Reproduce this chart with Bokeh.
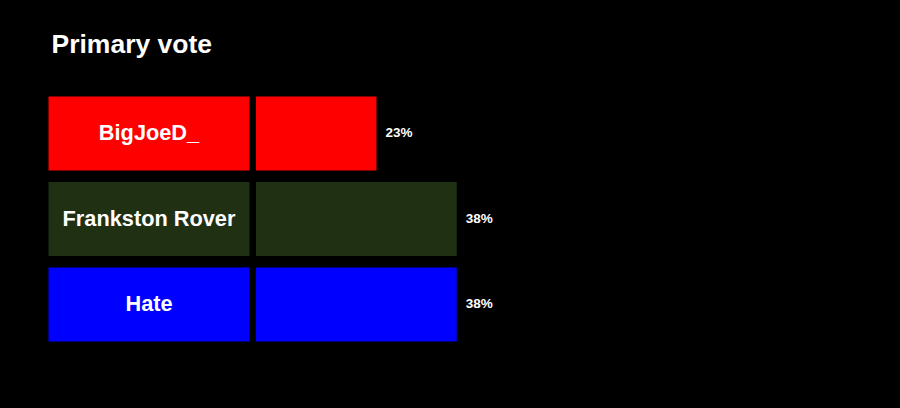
from bokeh.plotting import figure
from bokeh.models import Range1d, Label, ColumnDataSource
from bokeh.embed import file_html
from bokeh.resources import INLINE

# ---- data ----
names = ["BigJoeD_", "Frankston Rover", "Hate"]
shares = [23.08, 38.46, 38.46]          # primary vote, percent
labels = ["23%", "38%", "38%"]
colors = ["#ff0000", "#1f3013", "#0000ff"]
title_text = "Primary vote"

rows = list(range(len(names)))

W, H = 884, 392
px_per_pct = 5.22
px_per_row = 85.5
bar_start_px = 255.5
x0 = -bar_start_px / px_per_pct
y_top = -133 / px_per_row

p = figure(width=W, height=H, output_backend="svg", toolbar_location=None,
           x_range=Range1d(x0, x0 + W / px_per_pct),
           y_range=Range1d(y_top + H / px_per_row, y_top),
           min_border=0, min_border_left=0, min_border_right=0,
           min_border_top=0, min_border_bottom=0,
           background_fill_color="#000000", border_fill_color="#000000",
           outline_line_color=None)
p.axis.visible = False
p.grid.visible = False

src = ColumnDataSource(dict(y=rows, name=names, share=shares, label=labels, color=colors))

bar_h = 74 / px_per_row
box_left = (48 - bar_start_px) / px_per_pct
box_right = (249 - bar_start_px) / px_per_pct

# name boxes
p.hbar(y="y", left=box_left, right=box_right, height=bar_h, fill_color="color",
       line_color=None, source=src)
# value bars
p.hbar(y="y", left=0, right="share", height=bar_h, fill_color="color",
       line_color=None, source=src)

p.text(x=(box_left + box_right) / 2, y="y", text="name", source=src, y_offset=-1,
       text_align="center", text_baseline="middle", text_color="#ffffff",
       text_font={"value": "Liberation Sans"}, text_font_style="bold",
       text_font_size="21.75px")

p.text(x="share", y="y", text="label", source=src, x_offset=9, y_offset=-1,
       text_align="left", text_baseline="middle", text_color="#ffffff",
       text_font={"value": "Liberation Sans"}, text_font_style="bold",
       text_font_size="13.5px")

p.add_layout(Label(x=51, y=H - 43, x_units="screen", y_units="screen",
                   text=title_text, text_color="#ffffff", text_font="Liberation Sans",
                   text_font_style="bold", text_font_size="26.5px",
                   text_baseline="alphabetic"))

html = file_html(p, INLINE)
html = html.replace("<head>", "<head><style>html,body{background:#000000;}</style>", 1)
open("out.html", "w").write(html)
